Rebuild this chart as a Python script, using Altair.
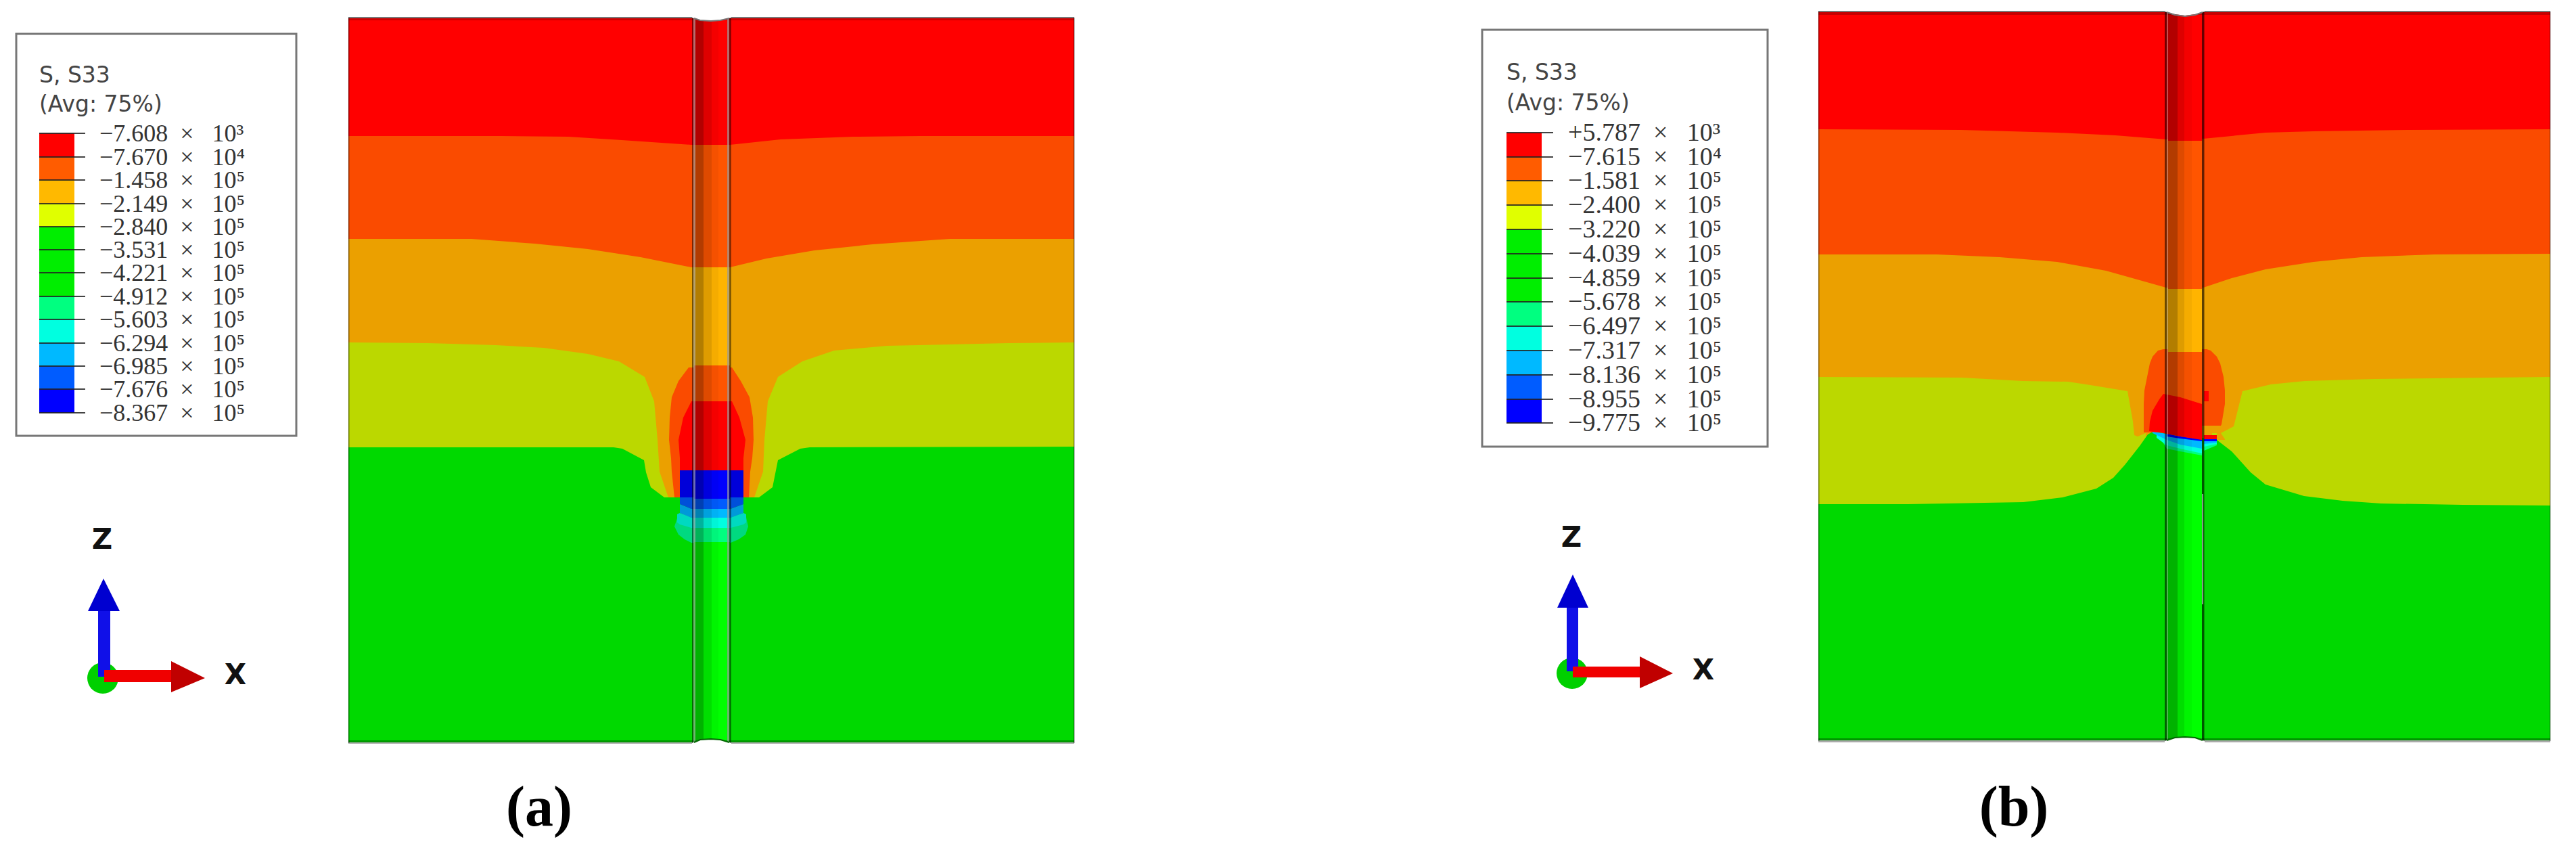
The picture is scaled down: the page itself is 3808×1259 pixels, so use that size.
import altair as alt
import pandas as pd

# ---------- values (image pixel coordinates) ----------
legend_a = ["−7.608", "−7.670", "−1.458", "−2.149", "−2.840", "−3.531", "−4.221",
            "−4.912", "−5.603", "−6.294", "−6.985", "−7.676", "−8.367"]
legend_b = ["+5.787", "−7.615", "−1.581", "−2.400", "−3.220", "−4.039", "−4.859",
            "−5.678", "−6.497", "−7.317", "−8.136", "−8.955", "−9.775"]
exp_a = ["³", "⁴"] + ["⁵"] * 11
exp_b = ["³", "⁴"] + ["⁵"] * 11
ticks_a = [197, 232, 266, 301, 335, 369, 403, 438, 472, 507, 541, 575, 610]
ticks_b = [196, 232, 267, 303, 339, 375, 411, 446, 482, 518, 554, 590, 625]
bar_colors = ["#FF0000", "#FF5C00", "#FFB900", "#E0FF00", "#00EE00", "#00EE00", "#00EE00",
              "#00FF80", "#00FFE0", "#00B9FF", "#005CFF", "#0000FF"]

RED, ORANGE, AMBER, LIME, GREEN = "#FF0000", "#FA4B00", "#EBA000", "#BBD800", "#00D900"
B_ORANGE, B_AMBER, B_GREEN = "#FF5500", "#FFB400", "#00FF00"
B_MINT, B_CYAN, B_SKY, B_BLUE5, B_BLUE = "#00FF80", "#00FFE0", "#00B9FF", "#005CFF", "#0000FF"
P_MINT, P_CYAN, P_SKY, P_BLUE5, P_BLUE = "#00D980", "#00D9C0", "#0099D9", "#0050D9", "#0000D9"

# panel (a) contour boundaries
a_ro_x = [515, 740, 840, 919, 1022, 1079, 1154, 1261, 1361, 1588]
a_ro_y = [201, 201, 202, 207, 214, 214, 206, 202, 201, 201]
a_oa_x = [515, 697, 790, 869, 947, 1022, 1079, 1133, 1204, 1290, 1404, 1588]
a_oa_y = [353, 353, 360, 368, 380, 395, 395, 382, 370, 361, 353, 353]
a_ll_x = [515, 633, 733, 804, 869, 915, 953, 967, 972, 975, 988]
a_ll_y = [506, 507, 510, 514, 523, 534, 557, 593, 650, 697, 735]
a_lr_x = [1115, 1128, 1130, 1135, 1150, 1186, 1233, 1311, 1404, 1490, 1588]
a_lr_y = [735, 697, 650, 593, 557, 534, 518, 511, 509, 507, 506]
a_gr_x = [515, 907, 920, 952, 955, 962, 982, 1122, 1142, 1150, 1183, 1197, 1588]
a_gr_y = [661, 661, 663, 680, 698, 720, 735, 735, 720, 680, 663, 661, 660]
a_ob_y = [543, 563, 587, 617, 650, 677, 697, 735]
a_ob_l = [1018, 1003, 993, 990, 989, 992, 993, 997]
a_ob_r = [1082, 1095, 1108, 1113, 1114, 1112, 1109, 1107]
a_rb_y = [593, 617, 650, 677, 695]
a_rb_l = [1022, 1010, 1003, 1005, 1005]
a_rb_r = [1082, 1093, 1102, 1099, 1099]
a_tail_x = [1005, 1022, 1080, 1099]
a_b5_top = [735, 735, 735, 735]
a_b5_bot = [745, 752, 752, 745]
a_sky_bot = [758, 765, 765, 758]
a_cy_x = [1001, 1005, 1022, 1080, 1099, 1103]
a_cy_top = [760, 758, 765, 765, 758, 760]
a_cy_bot = [772, 775, 780, 780, 775, 772]
a_mi_x = [997, 1003, 1012, 1022, 1080, 1092, 1102, 1106]
a_mi_top = [778, 760, 760, 760, 760, 760, 760, 778]
a_mi_bot = [778, 790, 797, 802, 802, 797, 790, 778]
a_groove_edges = [26, 214, 395, 540, 593, 695, 737, 752, 765, 780, 801, 1098]
groove_colors = [RED, B_ORANGE, B_AMBER, B_ORANGE, RED, B_BLUE, B_BLUE5, B_SKY, B_CYAN, B_MINT, B_GREEN]

# panel (b) contour boundaries
b_ro_x = [2688, 2899, 3041, 3127, 3202, 3257, 3349, 3420, 3563, 3770]
b_ro_y = [191, 192, 196, 200, 206, 205, 196, 194, 192, 191]
b_oa_x = [2688, 2863, 2956, 3041, 3113, 3163, 3202, 3257, 3299, 3349, 3420, 3491, 3599, 3770]
b_oa_y = [376, 376, 380, 387, 400, 414, 425, 425, 411, 398, 387, 380, 376, 375]
b_ll_x = [2688, 2900, 2990, 3057, 3090, 3145, 3153, 3155, 3160, 3172]
b_ll_y = [557, 558, 563, 564, 569, 578, 623, 643, 645, 640]
b_lr_x = [3270, 3283, 3302, 3307, 3315, 3357, 3407, 3510, 3770]
b_lr_y = [640, 640, 630, 610, 578, 568, 563, 560, 557]
b_gr_x = [2688, 2820, 2991, 3049, 3099, 3124, 3141, 3163, 3175, 3182, 3200,
          3277, 3299, 3327, 3349, 3406, 3463, 3520, 3641, 3770]
b_gr_y = [745, 745, 742, 735, 722, 706, 687, 659, 642, 638, 640,
          650, 667, 698, 716, 733, 740, 744, 746, 747]
b_ob_y = [516, 518, 527, 537, 557, 577, 597, 627, 629]
b_ob_l = [3198, 3190, 3182, 3178, 3174, 3170, 3169, 3169, 3169]
b_ob_r = [3262, 3268, 3277, 3282, 3287, 3289, 3289, 3284, 3283]
b_rb_x = [3177, 3178, 3182, 3192, 3198, 3223, 3255]
b_rb_top = [637, 623, 607, 590, 582, 587, 597]
b_rb_bot = [637, 637, 638, 639, 640, 645, 650]
b_sky_x = [3182, 3203, 3223, 3255]
b_sky_top = [638, 641, 645, 650]
b_sky_bot = [640, 650, 657, 663]
b_cy_x = [3188, 3203, 3223, 3255]
b_cy_top = [642, 647, 653, 658]
b_cy_bot = [647, 658, 663, 670]
b_mi_x = [3197, 3203, 3223, 3255]
b_mi_top = [650, 653, 660, 667]
b_mi_bot = [653, 663, 667, 673]
b_bl_x = [3203, 3223, 3255]
b_bl_top = [641, 645, 649]
b_bl_bot = [645, 648, 652]

X = alt.Scale(domain=[8, 3800], nice=False, zero=False)
Y = alt.Scale(domain=[1251, 8], nice=False, zero=False)
layers = []


def band(xs, tops, bots, color):
    bots = bots if isinstance(bots, list) else [bots] * len(xs)
    df = pd.DataFrame({"x": xs, "t": tops, "b": bots})
    layers.append(alt.Chart(df).mark_area(color=color, clip=False, opacity=1).encode(
        x=alt.X("x:Q", scale=X, axis=None), y=alt.Y("t:Q", scale=Y, axis=None), y2=alt.Y2("b:Q")))


def hband(ys, ls, rs, color):
    df = pd.DataFrame({"y": ys, "l": ls, "r": rs})
    layers.append(alt.Chart(df).mark_area(color=color, orient="horizontal", opacity=1).encode(
        y=alt.Y("y:Q", scale=Y, axis=None), x=alt.X("l:Q", scale=X, axis=None), x2=alt.X2("r:Q")))


def rect(x0, x1, y0, y1, color, opacity=1.0, stroke=None, sw=0):
    df = pd.DataFrame({"x": [x0], "x2": [x1], "y": [y0], "y2": [y1]})
    kw = dict(stroke=stroke, strokeWidth=sw) if stroke else {}
    layers.append(alt.Chart(df).mark_rect(color=color, opacity=opacity, **kw).encode(
        x=alt.X("x:Q", scale=X, axis=None), x2=alt.X2("x2:Q"),
        y=alt.Y("y:Q", scale=Y, axis=None), y2=alt.Y2("y2:Q")))


def line(xs, ys, color, width):
    df = pd.DataFrame({"x": xs, "y": ys})
    layers.append(alt.Chart(df).mark_line(color=color, strokeWidth=width).encode(
        x=alt.X("x:Q", scale=X, axis=None), y=alt.Y("y:Q", scale=Y, axis=None)))


def text(x, y, s, font, size, color="#333333", align="left", baseline="alphabetic", weight="normal"):
    df = pd.DataFrame({"x": [x], "y": [y], "s": [s]})
    layers.append(alt.Chart(df).mark_text(font=font, fontSize=size, color=color, align=align,
                                          baseline=baseline, fontWeight=weight).encode(
        x=alt.X("x:Q", scale=X, axis=None), y=alt.Y("y:Q", scale=Y, axis=None), text="s:N"))


def legend(box, bar_x, tick_x, label_x, ticks, labels, exps, title_y, label_size):
    rect(box[0], box[1], box[2], box[3], "#FFFFFF", stroke="#777777", sw=3)
    text(bar_x[0], title_y[0], "S, S33", "DejaVu Sans", 33, "#444444")
    text(bar_x[0], title_y[1], "(Avg: 75%)", "DejaVu Sans", 33, "#444444")
    for i, c in enumerate(bar_colors):
        rect(bar_x[0], bar_x[1], ticks[i], ticks[i + 1], c)
    for t in ticks:
        rect(bar_x[0], tick_x, t - 1, t + 1, "#222222", 0.85)
    for t, l, e in zip(ticks, labels, exps):
        text(label_x, t + 1, l + "\u00A0\u00A0×\u00A0\u00A0\u00A010" + e, "Liberation Serif", label_size,
             baseline="middle")


def triad(c, blue, red, z_pos, x_pos):
    cx, cy = c
    df = pd.DataFrame({"x": [cx], "y": [cy]})
    layers.append(alt.Chart(df).mark_point(shape="circle", filled=True, size=2116, color="#00D000",
                                           opacity=1).encode(
        x=alt.X("x:Q", scale=X, axis=None), y=alt.Y("y:Q", scale=Y, axis=None)))
    rect(blue[0], blue[1], blue[2], blue[3], "#1010E8")
    band([blue[4], cx + 1, blue[5]], [blue[2], blue[6], blue[2]], blue[2], "#0000D0")
    rect(red[0], red[1], red[2], red[3], "#F00000")
    band([red[1], red[6]], [red[4], cy], [red[5], cy], "#C00000")
    text(z_pos[0], z_pos[1], "Z", "DejaVu Sans", 42, "#111111", "center", "middle", "bold")
    text(x_pos[0], x_pos[1], "X", "DejaVu Sans", 42, "#111111", "center", "middle", "bold")


def groove_shadow(cols, y0, y1):
    for (x0, x1), op in zip(cols, [0.3, 0.13, 0.04]):
        rect(x0, x1, y0, y1, "#000000", op)


# ---------- panel (a) ----------
rect(515, 1588, 26, 1098, RED)
band(a_ro_x, a_ro_y, 1098, ORANGE)
band(a_oa_x, a_oa_y, 1098, AMBER)
band(a_ll_x, a_ll_y, 1098, LIME)
band(a_lr_x, a_lr_y, 1098, LIME)
band(a_gr_x, a_gr_y, 1098, GREEN)
hband(a_ob_y, a_ob_l, a_ob_r, ORANGE)
hband(a_rb_y, a_rb_l, a_rb_r, RED)
band(a_mi_x, a_mi_top, a_mi_bot, P_MINT)
band(a_cy_x, a_cy_top, a_cy_bot, P_CYAN)
band(a_tail_x, a_b5_bot, a_sky_bot, P_SKY)
band(a_tail_x, a_b5_top, a_b5_bot, P_BLUE5)
rect(1005, 1099, 695, 735, P_BLUE)
for i, c in enumerate(groove_colors):
    rect(1026, 1079, a_groove_edges[i], a_groove_edges[i + 1], c)
groove_shadow([(1028, 1040), (1040, 1052), (1052, 1062)], 26, 1098)
rect(515, 1588, 25, 27, "#777777")
rect(515, 1588, 27, 30, "#000000", 0.2)
rect(515, 1588, 1094, 1097, "#000000", 0.3)
rect(515, 1588, 1097, 1099, "#AAAAAA")
rect(515, 516.5, 26, 1098, "#000000", 0.45)
rect(1587, 1588.5, 26, 1098, "#000000", 0.45)
rect(1023, 1025, 26, 1098, "#000000", 0.5)
rect(1025, 1028, 26, 1098, "#999999", 0.7)
rect(1075, 1078, 26, 1098, "#999999", 0.7)
rect(1078, 1081, 26, 1098, "#000000", 0.45)
band([1023, 1035, 1051, 1065, 1081], [20] * 5, [26, 30, 31, 30, 26], "#FFFFFF")
line([1026, 1035, 1051, 1065, 1078], [27, 30, 31, 30, 27], "#777777", 2)
band([1023, 1035, 1051, 1065, 1081], [1098, 1093, 1092, 1093, 1098], 1102, "#FFFFFF")
line([1026, 1035, 1051, 1065, 1078], [1097, 1093, 1092, 1093, 1097], "#006600", 2)

# ---------- panel (b) ----------
rect(2688, 3770, 17, 1095, RED)
band(b_ro_x, b_ro_y, 1095, ORANGE)
band(b_oa_x, b_oa_y, 1095, AMBER)
band(b_ll_x, b_ll_y, 1095, LIME)
band(b_lr_x, b_lr_y, 1095, LIME)
band(b_gr_x, b_gr_y, 1095, GREEN)
hband(b_ob_y, b_ob_l, b_ob_r, ORANGE)
rect(3169, 3200, 629, 639, ORANGE)
band([3277, 3283, 3289], [640, 640, 649], 650, AMBER)
rect(3205, 3255, 17, 208, RED)
rect(3205, 3255, 208, 427, B_ORANGE)
rect(3205, 3255, 427, 520, B_AMBER)
rect(3205, 3255, 520, 660, B_ORANGE)
band([3205, 3255], [655, 670], 1095, B_GREEN)
band(b_mi_x, b_mi_top, b_mi_bot, B_MINT)
band(b_cy_x, b_cy_top, b_cy_bot, B_CYAN)
band(b_sky_x, b_sky_top, b_sky_bot, B_SKY)
band(b_bl_x, b_bl_top, b_bl_bot, B_BLUE)
band(b_rb_x, b_rb_top, b_rb_bot, RED)
band([3258, 3277], [650, 652], [666, 658], B_MINT)
band([3258, 3277], [650, 652], [660, 656], B_CYAN)
band([3258, 3277], [650, 652], [656, 654], B_SKY)
rect(3258, 3277, 649, 652, B_BLUE)
rect(3258, 3277, 643, 649, RED)
rect(3258, 3265, 578, 593, RED)
groove_shadow([(3205, 3219), (3219, 3229), (3229, 3240)], 17, 1095)
rect(2688, 3770, 16, 18, "#777777")
rect(2688, 3770, 18, 22, "#000000", 0.22)
rect(2688, 3770, 1091, 1094, "#000000", 0.3)
rect(2688, 3770, 1094, 1097, "#AAAAAA")
rect(2688, 2689.5, 17, 1095, "#000000", 0.4)
rect(3769, 3770.5, 17, 1095, "#000000", 0.4)
rect(3200, 3203, 17, 1095, "#000000", 0.55)
rect(3203, 3205, 17, 1095, "#999999", 0.5)
rect(3255, 3258.5, 17, 1095, "#000000", 0.6)
rect(3255, 3257, 730, 893, "#BBBBBB", 0.7)
band([3200, 3215, 3230, 3245, 3259], [11] * 5, [17, 21, 23, 21, 17], "#FFFFFF")
line([3203, 3215, 3230, 3245, 3256], [18, 22, 24, 22, 18], "#777777", 2)
band([3200, 3215, 3230, 3245, 3259], [1095, 1090, 1089, 1090, 1095], 1099, "#FFFFFF")
line([3203, 3215, 3230, 3245, 3256], [1094, 1090, 1089, 1090, 1094], "#006600", 2)

# ---------- legends ----------
legend((24, 438, 50, 644), (58, 110), 126, 147, ticks_a, legend_a, exp_a, (122, 165), 36)
legend((2191, 2613, 44, 660), (2227, 2279), 2296, 2318, ticks_b, legend_b, exp_b, (118, 163), 38)

# ---------- axis triads ----------
triad((152, 1002), (145, 163, 903, 1000, 130, 177, 855), (154, 253, 990, 1008, 977, 1023, 303),
      (151, 798), (348, 998))
triad((2324, 995), (2316, 2333, 898, 992, 2302, 2348, 849), (2325, 2424, 985, 1001, 970, 1017, 2473),
      (2323, 795), (2518, 991))

# ---------- captions ----------
text(797, 1220, "(a)", "Liberation Serif", 84, "#000000", "center", "alphabetic", "bold")
text(2977, 1220, "(b)", "Liberation Serif", 84, "#000000", "center", "alphabetic", "bold")

chart = alt.layer(*layers).properties(
    width=3792, height=1243, padding=0, background="#FFFFFF",
    autosize=alt.AutoSizeParams(type="none"),
).configure_view(stroke=None)

chart.save("out.html", embed_options={"renderer": "svg", "actions": False})
